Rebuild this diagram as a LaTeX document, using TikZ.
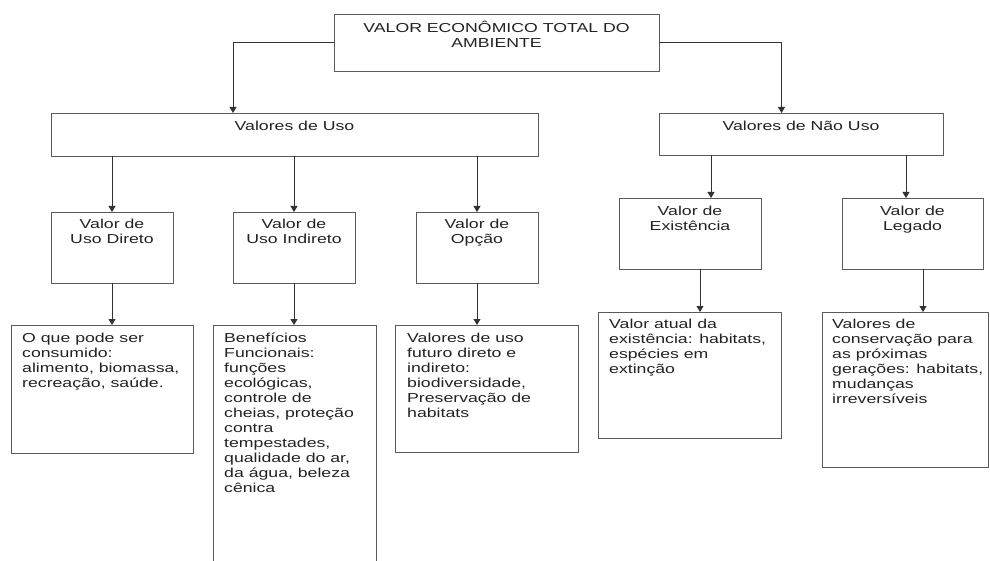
\documentclass[tikz,border=0pt]{standalone}
\usepackage{fontspec}
\setmainfont{Liberation Sans}[FakeStretch=1.36]
\usetikzlibrary{arrows.meta}
\definecolor{boxline}{HTML}{5A5A5A}
\definecolor{conn}{HTML}{333333}
\definecolor{ink}{HTML}{222222}
\tikzset{
  box/.style={draw=boxline, line width=0.9pt, inner sep=0pt, outer sep=0pt, anchor=north west},
  ctext/.style={inner sep=0pt, anchor=north, align=center, text=ink, font=\fontsize{13}{15}\selectfont},
  ltext/.style={inner sep=0pt, anchor=north west, align=left, text=ink, font=\fontsize{13}{15}\selectfont},
  arr/.style={draw=conn, line width=0.9pt, -{Triangle[length=6pt,width=7pt]}},
}
\begin{document}
\begin{tikzpicture}[x=1pt,y=-1pt]
\useasboundingbox (0,0) rectangle (990,561);
% boxes
\node[box, minimum width=325pt, minimum height=57pt] (top) at (334,14) {};
\node[box, minimum width=487pt, minimum height=43pt] (uso) at (51,113) {};
\node[box, minimum width=284pt, minimum height=42pt] (nuso) at (659,113) {};
\node[box, minimum width=122pt, minimum height=71pt] (d1) at (51,212) {};
\node[box, minimum width=122pt, minimum height=71pt] (d2) at (233,212) {};
\node[box, minimum width=122pt, minimum height=71pt] (d3) at (416,212) {};
\node[box, minimum width=142pt, minimum height=71pt] (d4) at (619,198) {};
\node[box, minimum width=141pt, minimum height=71pt] (d5) at (842,198) {};
\node[box, minimum width=182pt, minimum height=128pt] (e1) at (11,325) {};
\node[box, minimum width=163pt, minimum height=260pt] (e2) at (213,325) {};
\node[box, minimum width=183pt, minimum height=127pt] (e3) at (395,325) {};
\node[box, minimum width=183pt, minimum height=126pt] (e4) at (598,312) {};
\node[box, minimum width=166pt, minimum height=155pt] (e5) at (822,312) {};
% texts
\node[ctext] (top-t) at ([yshift=-6.5pt]top.north) {\strut VALOR ECONÔMICO TOTAL DO\\AMBIENTE};
\node[ctext] (uso-t) at ([yshift=-6.5pt]uso.north) {\strut Valores de Uso};
\node[ctext] (nuso-t) at ([yshift=-6.5pt]nuso.north) {\strut Valores de Não Uso};
\node[ctext] (d1-t) at ([yshift=-6pt]d1.north) {\strut Valor de\\Uso Direto};
\node[ctext] (d2-t) at ([yshift=-6pt]d2.north) {\strut Valor de\\Uso Indireto};
\node[ctext] (d3-t) at ([yshift=-6pt]d3.north) {\strut Valor de\\Opção};
\node[ctext] (d4-t) at ([yshift=-6.5pt]d4.north) {\strut Valor de\\Existência};
\node[ctext] (d5-t) at ([yshift=-6.5pt]d5.north) {\strut Valor de\\Legado};
\node[ltext] (e1-t) at ([xshift=11pt,yshift=-7pt]e1.north west) {\strut O que pode ser\\consumido:\\alimento, biomassa,\\recreação, saúde.};
\node[ltext] (e2-t) at ([xshift=11pt,yshift=-7pt]e2.north west) {\strut Benefícios\\Funcionais:\\funções\\ecológicas,\\controle de\\cheias, proteção\\contra\\tempestades,\\qualidade do ar,\\da água, beleza\\cênica};
\node[ltext] (e3-t) at ([xshift=12pt,yshift=-7pt]e3.north west) {\strut Valores de uso\\futuro direto e\\indireto:\\biodiversidade,\\Preservação de\\habitats};
\node[ltext] (e4-t) at ([xshift=11pt,yshift=-5.5pt]e4.north west) {\strut Valor atual da\\existência: habitats,\\espécies em\\extinção};
\node[ltext] (e5-t) at ([xshift=10pt,yshift=-5.5pt]e5.north west) {\strut Valores de\\conservação para\\as próximas\\gerações: habitats,\\mudanças\\irreversíveis};
% connector columns
\coordinate (cU) at (233,0);
\coordinate (cN) at (781.5,0);
\coordinate (c4) at (711,0);
\coordinate (c5) at (906,0);
\coordinate (f4) at (700,0);
\coordinate (f5) at (923,0);
% connectors
\draw[arr] (top.west) -| (uso.north -| cU);
\draw[arr] (top.east) -| (nuso.north -| cN);
\draw[arr] (uso.south -| d1.north) -- (d1.north);
\draw[arr] (uso.south -| d2.north) -- (d2.north);
\draw[arr] (uso.south -| d3.north) -- (d3.north);
\draw[arr] (nuso.south -| c4) -- (d4.north -| c4);
\draw[arr] (nuso.south -| c5) -- (d5.north -| c5);
\draw[arr] (d1.south) -- (e1.north -| d1.south);
\draw[arr] (d2.south) -- (e2.north -| d2.south);
\draw[arr] (d3.south) -- (e3.north -| d3.south);
\draw[arr] (d4.south -| f4) -- (e4.north -| f4);
\draw[arr] (d5.south -| f5) -- (e5.north -| f5);
\end{tikzpicture}
\end{document}
